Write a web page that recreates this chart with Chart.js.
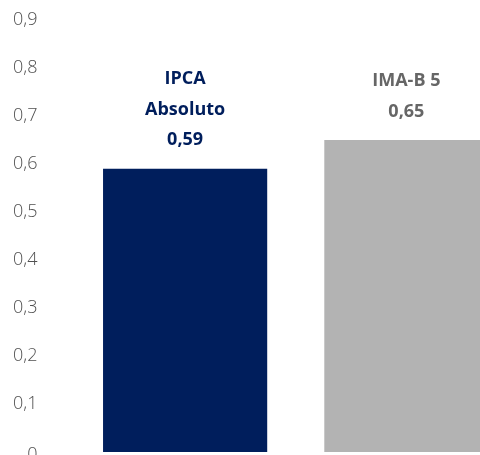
<!DOCTYPE html>
<html>
<head>
<meta charset="utf-8">
<script src="https://cdn.jsdelivr.net/npm/chart.js@4"></script>
<style>
  html, body { margin: 0; padding: 0; background: #fff; overflow: hidden; }
  canvas { display: block; }
</style>
</head>
<body>
<canvas id="grafico" width="517" height="460"></canvas>
<script>
// dados do gráfico
const categorias = ['IPCA Absoluto', 'IMA-B 5'];
const rotulos = [['IPCA', 'Absoluto'], ['IMA-B 5']];
const valores = [0.59, 0.65];
const cores = ['#001E5C', '#B3B3B3'];
const coresTexto = ['#001E5C', '#666666'];
const corEixo = '#505050';

const fmt = v => String(v).replace('.', ',');

// escreve o nome e o valor acima de cada barra (e o "0" do eixo, um pouco abaixo)
const rotuloBarras = {
  id: 'rotuloBarras',
  afterDatasetsDraw(chart) {
    const ctx = chart.ctx;
    const meta = chart.getDatasetMeta(0);
    const eixo = chart.scales.y;
    ctx.save();
    ctx.textAlign = 'center';
    ctx.textBaseline = 'middle';
    ctx.font = 'bold 18px "Open Sans"';
    meta.data.forEach((bar, i) => {
      const linhas = rotulos[i].concat([fmt(valores[i])]);
      ctx.fillStyle = coresTexto[i];
      linhas.forEach((txt, j) => {
        const y = bar.y - 28.5 - (linhas.length - 1 - j) * 30.5;
        ctx.fillText(txt, bar.x, y);
      });
    });
    ctx.font = '300 18px "Open Sans"';
    ctx.fillStyle = corEixo;
    ctx.textAlign = 'right';
    ctx.fillText('0', eixo.right - 37, eixo.getPixelForValue(0) + 3);
    ctx.restore();
  }
};

new Chart(document.getElementById('grafico'), {
  type: 'bar',
  data: {
    labels: categorias,
    datasets: [{
      data: valores,
      backgroundColor: cores,
      barPercentage: 0.742,
      categoryPercentage: 1
    }]
  },
  options: {
    responsive: false,
    animation: false,
    layout: { padding: { top: 20, bottom: 8 } },
    plugins: { legend: { display: false }, tooltip: { enabled: false } },
    scales: {
      x: { display: false },
      y: {
        min: 0,
        max: 0.9,
        afterFit: s => {
          s.width = 74.5;
          s.paddingTop = 0;
          s.paddingBottom = 0;
        },
        grid: { display: false, drawTicks: false },
        border: { display: false },
        ticks: {
          stepSize: 0.1,
          padding: 37,
          color: corEixo,
          font: { family: '"Open Sans"', size: 18, weight: 300 },
          callback: v => v === 0 ? '' : fmt(Math.round(v * 10) / 10)
        }
      }
    }
  },
  plugins: [rotuloBarras]
});
</script>
</body>
</html>
